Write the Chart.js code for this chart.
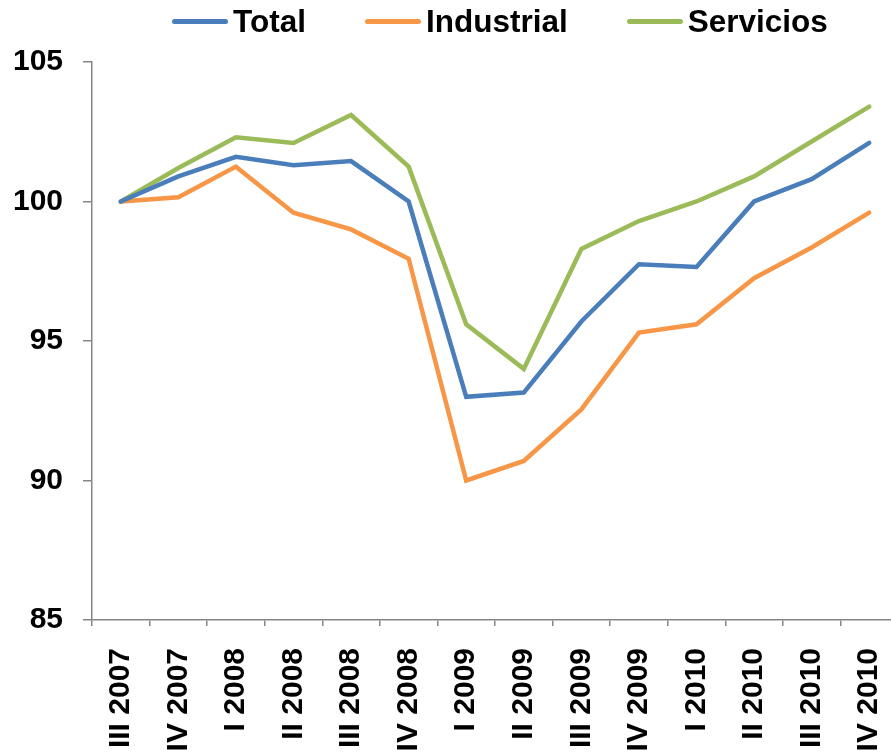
<!DOCTYPE html>
<html>
<head>
<meta charset="utf-8">
<script src="https://cdn.jsdelivr.net/npm/chart.js@4.4.1/dist/chart.umd.min.js"></script>
<style>
    html, body { margin: 0; padding: 0; overflow: hidden; background: #fff; }
    body { width: 891px; height: 756px; position: relative; font-family: "Liberation Sans", Arial, sans-serif; }
    #chart { position: absolute; left: 0; top: 0; }
    #legend { position: absolute; left: 172px; top: 4px; height: 35px; display: flex; align-items: center; }
    .item { display: flex; align-items: center; margin-right: 59px; font-weight: bold; font-size: 31.5px; color: #000; }
    .swatch { width: 56px; height: 5px; border-radius: 3px; margin-right: 5px; }
</style>
</head>
<body>
<canvas id="chart" width="900" height="756"></canvas>
<div id="legend"></div>
<script>
const categories = ["III 2007", "IV 2007", "I 2008", "II 2008", "III 2008", "IV 2008", "I 2009", "II 2009", "III 2009", "IV 2009", "I 2010", "II 2010", "III 2010", "IV 2010"];
const total      = [100, 100.9, 101.6, 101.3, 101.45, 100.0, 93.0, 93.15, 95.7, 97.75, 97.65, 100.0, 100.8, 102.1];
const industrial = [100, 100.15, 101.25, 99.6, 99.0, 97.95, 90.0, 90.7, 92.55, 95.3, 95.6, 97.25, 98.35, 99.6];
const servicios  = [100, 101.2, 102.3, 102.1, 103.1, 101.25, 95.6, 94.0, 98.3, 99.3, 100.0, 100.9, 102.15, 103.4];
const yTicks = [85, 90, 95, 100, 105];

const axisGray = "#868686";

function series(label, data, color) {
    return {
        label, data,
        borderColor: color,
        backgroundColor: color,
        borderWidth: 4.5,
        borderCapStyle: 'round',
        pointRadius: 0,
        tension: 0
    };
}

const chart = new Chart(document.getElementById("chart"), {
    type: 'line',
    data: {
        labels: categories,
        datasets: [
            series('Total', total, '#4a7ebb'),
            series('Industrial', industrial, '#f79646'),
            series('Servicios', servicios, '#9bbb59')
        ]
    },
    options: {
        responsive: false,
        animation: false,
        layout: { padding: { top: 62, right: 2, left: 0, bottom: 0 } },
        plugins: { legend: { display: false }, tooltip: { enabled: false } },
        scales: {
            x: {
                offset: true,
                grid: { offset: true, drawOnChartArea: false, tickLength: 6, tickColor: axisGray, lineWidth: 1.5 },
                border: { color: axisGray, width: 1.5 },
                ticks: {
                    color: '#000', minRotation: 90, maxRotation: 90, padding: 22, autoSkip: false,
                    font: { family: '"Liberation Sans", Arial, sans-serif', size: 30, weight: 'bold' }
                },
                // fixed axis band, no extra side padding for the rotated labels
                afterFit: s => { s.height = 136; s.paddingLeft = 0; s.paddingRight = 0; }
            },
            y: {
                min: 85, max: 105,
                afterBuildTicks: s => { s.ticks = yTicks.map(v => ({ value: v })); },
                grid: { drawOnChartArea: false, tickLength: 9, tickColor: axisGray, lineWidth: 1.5 },
                border: { color: axisGray, width: 1.5 },
                ticks: {
                    color: '#000', padding: 20,
                    font: { family: '"Liberation Sans", Arial, sans-serif', size: 30, weight: 'bold' }
                },
                afterFit: s => { s.width = 92; }
            }
        }
    }
});

document.getElementById("legend").innerHTML = chart.data.datasets.map(d => `
    <div class="item"><span class="swatch" style="background:${d.borderColor}"></span>${d.label}</div>
`).join('');
</script>
</body>
</html>
